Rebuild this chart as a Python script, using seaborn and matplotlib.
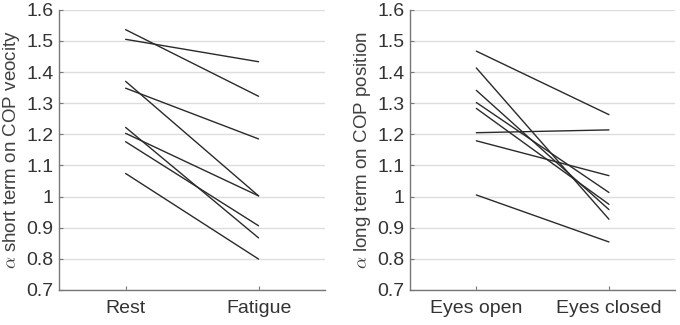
import matplotlib
matplotlib.use("Agg")
import matplotlib.pyplot as plt
import seaborn as sns
import pandas as pd

# Left panel: alpha short term on COP velocity
left_conditions = ["Rest", "Fatigue"]
left_rest = [1.536, 1.505, 1.370, 1.348, 1.222, 1.203, 1.176, 1.074]
left_fatigue = [1.322, 1.433, 1.002, 1.185, 0.867, 1.002, 0.906, 0.799]

# Right panel: alpha long term on COP position
right_conditions = ["Eyes open", "Eyes closed"]
right_open = [1.467, 1.413, 1.341, 1.302, 1.283, 1.205, 1.179, 1.005]
right_closed = [1.263, 0.927, 0.958, 1.013, 0.975, 1.214, 1.067, 0.854]

yticks = [0.7, 0.8, 0.9, 1.0, 1.1, 1.2, 1.3, 1.4, 1.5, 1.6]
ytick_labels = ["0.7", "0.8", "0.9", "1", "1.1", "1.2", "1.3", "1.4", "1.5", "1.6"]


def to_long(conds, a, b):
    rows = []
    for i, (va, vb) in enumerate(zip(a, b)):
        rows.append({"subject": i, "cond": conds[0], "value": va})
        rows.append({"subject": i, "cond": conds[1], "value": vb})
    return pd.DataFrame(rows)


sns.set_theme(style="white")
plt.rcParams["font.family"] = ["Liberation Sans", "DejaVu Sans"]
plt.rcParams["mathtext.fontset"] = "cm"

fig = plt.figure(figsize=(6.8, 3.25), dpi=100)
ax1 = fig.add_axes([0.087, 0.108, 0.391, 0.862])
ax2 = fig.add_axes([0.603, 0.108, 0.390, 0.862])

panels = [
    (ax1, to_long(left_conditions, left_rest, left_fatigue), left_conditions,
     r"$\alpha$ short term on COP veocity"),
    (ax2, to_long(right_conditions, right_open, right_closed), right_conditions,
     r"$\alpha$ long term on COP position"),
]

for ax, df, conds, ylabel in panels:
    sns.lineplot(data=df, x="cond", y="value", units="subject", estimator=None,
                 color="#2a2a2a", linewidth=1.0, ax=ax, legend=False)
    ax.set_xlim(-0.5, 1.5)
    ax.set_ylim(0.7, 1.6)
    ax.set_yticks(yticks)
    ax.set_yticklabels(ytick_labels)
    ax.set_xticks([0, 1])
    ax.set_xticklabels(conds)
    ax.set_xlabel("")
    ax.set_ylabel(ylabel, fontsize=13.5, color="#404040", labelpad=3)
    ax.yaxis.grid(True, color="#dddddd", linewidth=1.0)
    ax.set_axisbelow(True)
    for s in ["top", "right"]:
        ax.spines[s].set_visible(False)
    for s in ["left", "bottom"]:
        ax.spines[s].set_color("#777777")
        ax.spines[s].set_linewidth(1.0)
    ax.tick_params(axis="both", direction="in", length=3, width=0.8,
                   color="#777777", labelsize=14, labelcolor="#333333",
                   left=True, bottom=True)
    ax.tick_params(axis="x", pad=7)
    ax.tick_params(axis="y", pad=4)

fig.savefig("out.png", dpi=100)
